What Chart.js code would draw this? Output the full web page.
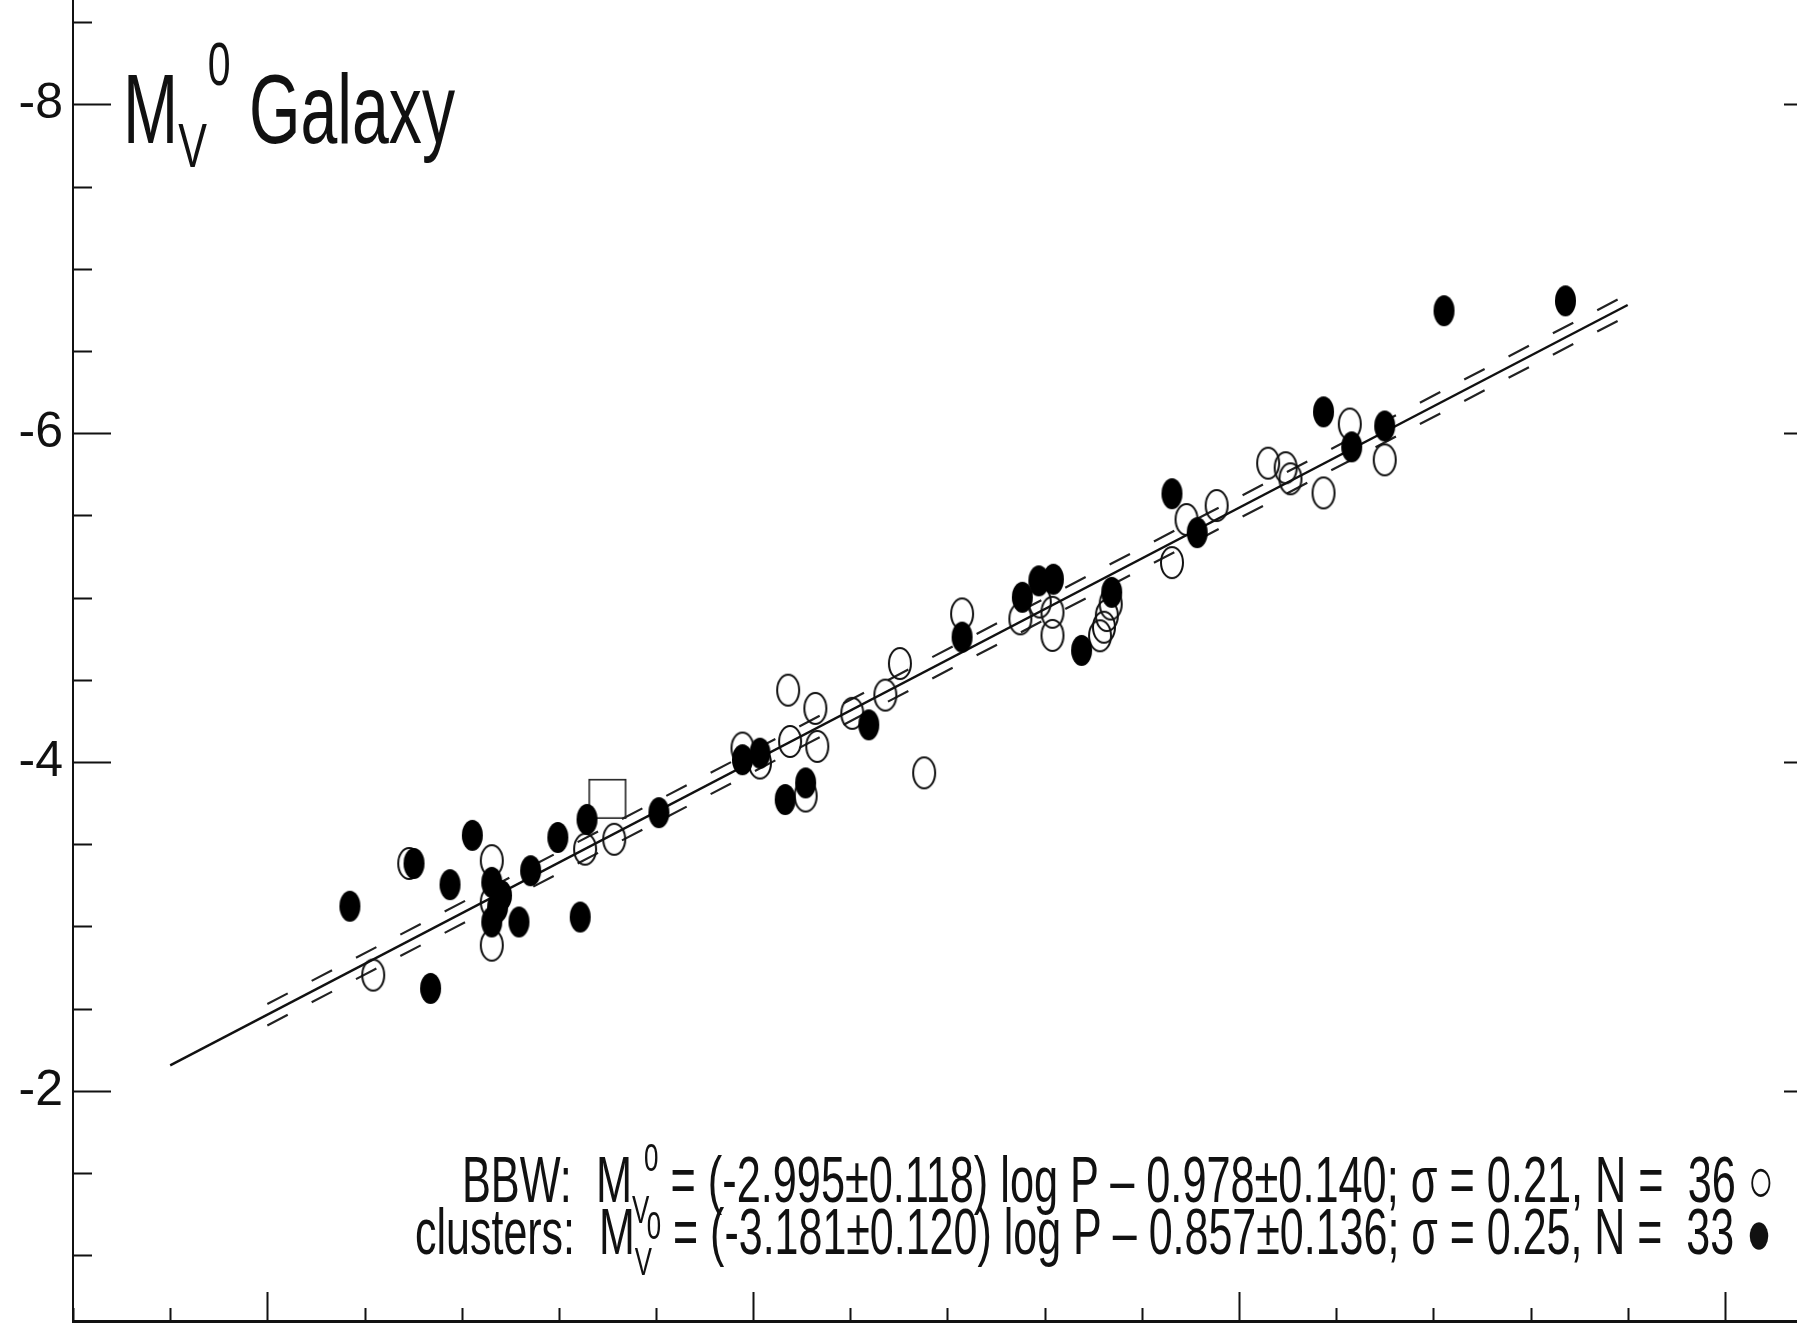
<!DOCTYPE html>
<html><head><meta charset="utf-8">
<script src="https://cdn.jsdelivr.net/npm/chart.js@4.4.0/dist/chart.umd.min.js"></script>
<style>
html,body{margin:0;padding:0;background:#fff;overflow:hidden;width:1797px;height:1340px;}
#wrap{position:absolute;left:0;top:-100px;width:1900px;height:1500px;}
.txt{position:absolute;white-space:nowrap;font-family:"Liberation Sans Narrow","Liberation Sans",Arial,sans-serif;color:#111;line-height:1;transform-origin:0 0;}
#title .sb{font-size:0.65em;position:relative;top:0.37em;}
#title .sp{font-size:0.62em;position:relative;top:-0.95em;margin-left:0.02em;}
#eq1 .sb,#eq2 .sb{font-size:0.6em;position:relative;top:0.54em;}
#eq1 .sp{font-size:0.6em;position:relative;top:-0.8em;margin-left:-0.2em;}
#eq2 .sp{font-size:0.6em;position:relative;top:-0.4em;margin-left:-0.2em;}
</style></head>
<body>
<div id="wrap"><canvas id="c" width="1900" height="1500"></canvas></div>
<div class="txt" id="title" style="font-size:98px;top:60px;">M<span class="sb">V</span><span class="sp">0</span> Galaxy</div>
<div class="txt" id="eq1" style="font-size:64px;top:1148px;">BBW:&nbsp; M<span class="sb">V</span><span class="sp">0</span> = (-2.995±0.118) log P – 0.978±0.140; σ = 0.21, N = &nbsp;36 ○</div>
<div class="txt" id="eq2" style="font-size:64px;top:1200px;">clusters:&nbsp; M<span class="sb">V</span><span class="sp">0</span> = (-3.181±0.120) log P – 0.857±0.136; σ = 0.25, N = &nbsp;33 ●</div>
<script>
// ---- data (log P, M_V^0) ----
const openLogP = [0.609,0.646,0.731,0.731,0.827,0.857,0.989,1.007,1.036,1.064,1.038,1.066,1.102,1.136,1.151,1.176,1.215,1.275,1.308,1.308,1.361,1.364,1.368,1.431,1.446,1.477,1.530,1.548,1.553,1.587,1.614,1.650,1.054,1.357,1.295,0.731];
const openMv   = [-2.704,-3.383,-3.400,-2.886,-3.470,-3.530,-4.085,-3.994,-4.437,-4.326,-4.125,-4.095,-4.296,-4.407,-4.599,-3.934,-4.901,-4.871,-4.911,-4.770,-4.820,-4.891,-4.961,-5.213,-5.475,-5.560,-5.818,-5.790,-5.723,-5.637,-6.056,-5.838,-3.793,-4.768,-4.973,-3.148];
const filledLogP = [0.585,0.651,0.668,0.688,0.711,0.731,0.741,0.731,0.759,0.771,0.799,0.829,0.822,0.903,0.989,1.007,1.033,1.054,1.119,1.215,1.277,1.294,1.309,1.338,1.369,1.431,1.457,1.587,1.616,1.650,1.711,1.836,0.737];
const filledMv   = [-3.123,-3.383,-2.623,-3.254,-3.554,-3.268,-3.188,-3.027,-3.027,-3.339,-3.541,-3.651,-3.057,-3.692,-4.014,-4.054,-3.772,-3.873,-4.226,-4.760,-5.002,-5.102,-5.112,-4.679,-5.032,-5.632,-5.395,-6.130,-5.917,-6.044,-6.745,-6.805,-3.117];
const squareLogP = [0.85];
const squareMv   = [-3.776];
const fitLogP = [0.40, 1.90];
const fitMv   = [-2.155, -6.780];
const bandLogP = [0.50, 1.90];
const bandUpperMv = [-2.528, -6.845];
const bandLowerMv = [-2.398, -6.715];
const yTickLabels = [-8, -6, -4, -2];

function pts(xs, ys){ return xs.map((x,i)=>({x:x,y:ys[i]})); }
function ellipseMarker(w,h,filled,lw){
  const c=document.createElement('canvas'); c.width=w+4; c.height=h+4;
  const g=c.getContext('2d'); g.beginPath();
  const inset = filled?0:lw/2;
  g.ellipse(c.width/2,c.height/2,w/2-inset,h/2-inset,0,0,Math.PI*2);
  if(filled){g.fillStyle='#000';g.fill();}else{g.strokeStyle='#111';g.lineWidth=lw;g.stroke();}
  return c;
}
function squareMarker(w,h,lw){
  const c=document.createElement('canvas'); c.width=w+4; c.height=h+4;
  const g=c.getContext('2d'); g.strokeStyle='#222'; g.lineWidth=lw;
  g.strokeRect(2+lw/2,2+lw/2,w-lw,h-lw); return c;
}
const filledImg = ellipseMarker(21,31,true,0);
const openImg = ellipseMarker(24,33,false,2);
const sqImg = squareMarker(38,40,1.6);

const inwardTicks = {
  id:'inwardTicks',
  afterDraw(chart){
    const ctx=chart.ctx, a=chart.chartArea, xs=chart.scales.x, ys=chart.scales.y;
    ctx.save(); ctx.strokeStyle='#111'; ctx.lineWidth=2;
    for(let v=0.3; v<=2.1001; v+=0.1){
      const px=Math.round(xs.getPixelForValue(v))+0.5;
      const major=Math.abs(v*2-Math.round(v*2))<1e-6;
      const L=major?29:13;
      ctx.beginPath(); ctx.moveTo(px,a.bottom); ctx.lineTo(px,a.bottom-L);
      ctx.moveTo(px,a.top); ctx.lineTo(px,a.top+L); ctx.stroke();
    }
    for(let v=-9; v<=-0.5999; v+=0.5){
      const py=Math.round(ys.getPixelForValue(v))+0.5;
      const major=yTickLabels.some(t=>Math.abs(t-v)<1e-6);
      const L=major?38:19;
      ctx.beginPath(); ctx.moveTo(a.left,py); ctx.lineTo(a.left+L,py);
      ctx.moveTo(a.right,py); ctx.lineTo(a.right-L,py); ctx.stroke();
    }
    ctx.restore();
  }
};

const FONT='"Liberation Sans Narrow","Liberation Sans",Arial,sans-serif';
new Chart(document.getElementById('c'),{
  type:'scatter',
  data:{datasets:[
    {label:'clusters',data:pts(filledLogP,filledMv),pointStyle:filledImg,pointRadius:12,pointHoverRadius:12,order:0},
    {label:'BBW',data:pts(openLogP,openMv),pointStyle:openImg,pointRadius:12,pointHoverRadius:12,order:1},
    {label:'square',data:pts(squareLogP,squareMv),pointStyle:sqImg,pointRadius:12,pointHoverRadius:12,order:2},
    {type:'line',label:'fit',data:pts(fitLogP,fitMv),borderColor:'#111',borderWidth:2.4,pointRadius:0,order:3},
    {type:'line',label:'upper',data:pts(bandLogP,bandUpperMv),borderColor:'#222',borderWidth:2.2,borderDash:[23,27],pointRadius:0,order:4},
    {type:'line',label:'lower',data:pts(bandLogP,bandLowerMv),borderColor:'#222',borderWidth:2.2,borderDash:[23,27],pointRadius:0,order:5}
  ]},
  options:{
    responsive:false, animation:false, devicePixelRatio:1,
    layout:{padding:0, autoPadding:false},
    plugins:{legend:{display:false},tooltip:{enabled:false}},
    scales:{
      x:{type:'linear',position:'bottom',min:0.3,max:2.1,
         ticks:{display:false,stepSize:0.1},grid:{display:false},
         border:{display:true,width:3,color:'#111'},
         afterFit(s){s.height=79;}},
      x2:{type:'linear',position:'top',min:0.3,max:2.1,
         ticks:{display:false},grid:{display:false},
         border:{display:true,width:2,color:'#111'},
         afterFit(s){s.height=32;}},
      y:{type:'linear',position:'left',reverse:true,min:-9,max:-0.6,
         ticks:{stepSize:0.5,padding:10,color:'#111',font:{family:FONT,size:50},
           callback:(v)=>yTickLabels.some(t=>Math.abs(t-v)<1e-6)?String(Math.round(v)):''},
         grid:{display:false,drawTicks:false},
         border:{display:true,width:2,color:'#111'},
         afterFit(s){s.width=73;}},
      y2:{type:'linear',position:'right',reverse:true,min:-9,max:-0.6,
         ticks:{display:false},grid:{display:false},
         border:{display:true,width:2,color:'#111'},
         afterFit(s){s.width=78;}}
    }
  },
  plugins:[inwardTicks]
});

function fit(id,left,right){
  const el=document.getElementById(id);
  el.style.left=left+'px'; el.style.transform='none';
  const w=el.getBoundingClientRect().width;
  el.style.transform='scaleX('+((right-left)/w)+')';
}
fit('title',123,455);
fit('eq1',462,1774);
fit('eq2',415,1772);
</script>
</body></html>
